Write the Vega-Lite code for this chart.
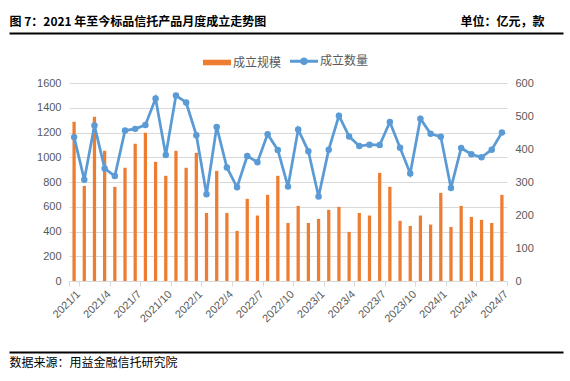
{
  "$schema": "https://vega.github.io/schema/vega-lite/v6.json",
  "width": 438,
  "height": 198,
  "autosize": {"type": "none"},
  "padding": {"left": 69, "top": 83, "right": 63, "bottom": 100},
  "background": "white",
  "config": {
    "view": {"stroke": null},
    "font": "Liberation Sans",
    "axis": {"labelFont": "Liberation Sans", "titleFont": "Noto Sans CJK SC"}
  },
  "data": {
    "values": [
      {"month": "2021/1", "amount": 1287, "count": 436},
      {"month": "2021/2", "amount": 769, "count": 307},
      {"month": "2021/3", "amount": 1327, "count": 471},
      {"month": "2021/4", "amount": 1052, "count": 341},
      {"month": "2021/5", "amount": 761, "count": 318},
      {"month": "2021/6", "amount": 915, "count": 456},
      {"month": "2021/7", "amount": 1109, "count": 461},
      {"month": "2021/8", "amount": 1198, "count": 473},
      {"month": "2021/9", "amount": 963, "count": 553},
      {"month": "2021/10", "amount": 850, "count": 382},
      {"month": "2021/11", "amount": 1052, "count": 562},
      {"month": "2021/12", "amount": 915, "count": 541},
      {"month": "2022/1", "amount": 1036, "count": 442},
      {"month": "2022/2", "amount": 550, "count": 263},
      {"month": "2022/3", "amount": 890, "count": 467},
      {"month": "2022/4", "amount": 550, "count": 344},
      {"month": "2022/5", "amount": 405, "count": 284},
      {"month": "2022/6", "amount": 664, "count": 379},
      {"month": "2022/7", "amount": 529, "count": 360},
      {"month": "2022/8", "amount": 696, "count": 445},
      {"month": "2022/9", "amount": 850, "count": 397},
      {"month": "2022/10", "amount": 469, "count": 286},
      {"month": "2022/11", "amount": 607, "count": 459},
      {"month": "2022/12", "amount": 469, "count": 393},
      {"month": "2023/1", "amount": 502, "count": 256},
      {"month": "2023/2", "amount": 575, "count": 398},
      {"month": "2023/3", "amount": 599, "count": 501},
      {"month": "2023/4", "amount": 397, "count": 438},
      {"month": "2023/5", "amount": 550, "count": 409},
      {"month": "2023/6", "amount": 529, "count": 413},
      {"month": "2023/7", "amount": 874, "count": 412},
      {"month": "2023/8", "amount": 761, "count": 482},
      {"month": "2023/9", "amount": 486, "count": 404},
      {"month": "2023/10", "amount": 445, "count": 326},
      {"month": "2023/11", "amount": 529, "count": 492},
      {"month": "2023/12", "amount": 456, "count": 446},
      {"month": "2024/1", "amount": 712, "count": 437},
      {"month": "2024/2", "amount": 437, "count": 282},
      {"month": "2024/3", "amount": 607, "count": 403},
      {"month": "2024/4", "amount": 518, "count": 384},
      {"month": "2024/5", "amount": 494, "count": 375},
      {"month": "2024/6", "amount": 469, "count": 398},
      {"month": "2024/7", "amount": 696, "count": 450}
    ]
  },
  "layer": [
    {
      "mark": {"type": "bar", "width": {"band": 0.32}},
      "encoding": {
        "x": {
          "field": "month", "type": "ordinal", "sort": null,
          "scale": {"paddingInner": 0, "paddingOuter": 0},
          "axis": {
            "title": null,
            "values": ["2021/1","2021/4","2021/7","2021/10","2022/1","2022/4","2022/7","2022/10","2023/1","2023/4","2023/7","2023/10","2024/1","2024/4","2024/7"],
            "tickBand": "extent",
            "labelAngle": -45,
            "labelOverlap": false,
            "labelColor": "#595959",
            "labelFontSize": 11,
            "labelPadding": 2,
            "domainColor": "#D9D9D9",
            "tickColor": "#D9D9D9",
            "tickSize": 5,
            "grid": false
          }
        },
        "y": {
          "field": "amount", "type": "quantitative",
          "scale": {"domain": [0, 1600], "nice": false},
          "axis": {
            "orient": "left",
            "title": null,
            "format": "d",
            "values": [0, 200, 400, 600, 800, 1000, 1200, 1400, 1600],
            "domain": false,
            "ticks": false,
            "grid": true,
            "gridColor": "#D9D9D9",
            "gridWidth": 1,
            "labelColor": "#595959",
            "labelFontSize": 11,
            "labelPadding": 8
          }
        },
        "color": {
          "datum": "成立规模",
          "scale": {"domain": ["成立规模", "成立数量"], "range": ["#ED7D31", "#5B9BD5"]},
          "legend": {
            "orient": "none",
            "legendX": 142,
            "legendY": -28,
            "direction": "horizontal",
            "title": null,
            "padding": 0,
            "symbolSize": 784,
            "labelFontSize": 12,
            "labelFont": "Noto Sans CJK SC",
            "labelColor": "#595959",
            "labelOffset": 10,
            "columnPadding": 2,
            "encode": {
              "symbols": {
                "update": {
                  "shape": {"signal": "datum.value === '成立规模' ? 'M-1,-0.2H1V0.2H-1Z' : 'M-1,0H1M-0.17,0A0.17,0.17 0 1,1 0.17,0A0.17,0.17 0 1,1 -0.17,0Z'"},
                  "fill": {"signal": "datum.value === '成立规模' ? '#ED7D31' : '#5B9BD5'"},
                  "stroke": {"signal": "datum.value === '成立规模' ? 'transparent' : '#5B9BD5'"},
                  "strokeWidth": {"signal": "datum.value === '成立规模' ? 0 : 3"},
                  "opacity": {"value": 1}
                }
              }
            }
          }
        }
      }
    },
    {
      "mark": {"type": "line", "strokeWidth": 2.75, "point": {"filled": true, "size": 42, "opacity": 1}},
      "encoding": {
        "x": {
          "field": "month", "type": "ordinal", "sort": null,
          "scale": {"paddingInner": 0, "paddingOuter": 0},
          "axis": null
        },
        "y": {
          "field": "count", "type": "quantitative",
          "scale": {"domain": [0, 600], "nice": false},
          "axis": {
            "orient": "right",
            "values": [0, 100, 200, 300, 400, 500, 600],
            "domain": false,
            "ticks": false,
            "grid": false,
            "labelColor": "#595959",
            "labelFontSize": 11,
            "labelPadding": 8,
            "title": "单位：亿元，款",
            "titleAngle": 0,
            "titleX": 37,
            "titleY": -62,
            "titleAlign": "right",
            "titleBaseline": "middle",
            "titleFontWeight": "bold",
            "titleFontSize": 12,
            "titleColor": "black"
          }
        },
        "color": {"datum": "成立数量"}
      }
    },
    {
      "data": {"values": [{"v": 0}, {"v": 1}]},
      "mark": {"type": "point", "opacity": 0},
      "encoding": {
        "x": {
          "field": "v", "type": "quantitative",
          "scale": {"domain": [0, 1], "range": [-60, 494], "nice": false, "zero": false},
          "axis": {
            "orient": "top",
            "offset": 50,
            "labels": false,
            "ticks": false,
            "grid": false,
            "domain": true,
            "domainColor": "black",
            "domainWidth": 2,
            "title": "图 7：2021 年至今标品信托产品月度成立走势图",
            "titleX": -60,
            "titleY": -12,
            "titleAlign": "left",
            "titleAngle": 0,
            "titleBaseline": "middle",
            "titleFontWeight": "bold",
            "titleFontSize": 12,
            "titleColor": "black"
          }
        }
      }
    },
    {
      "data": {"values": [{"v": 0}, {"v": 1}]},
      "mark": {"type": "point", "opacity": 0},
      "encoding": {
        "x": {
          "field": "v", "type": "quantitative",
          "scale": {"domain": [0, 1], "range": [-60, 494], "nice": false, "zero": false},
          "axis": {
            "orient": "bottom",
            "offset": 71,
            "labels": false,
            "ticks": false,
            "grid": false,
            "domain": true,
            "domainColor": "black",
            "domainWidth": 2,
            "title": "数据来源：用益金融信托研究院",
            "titleX": -60,
            "titleY": 10,
            "titleAlign": "left",
            "titleAngle": 0,
            "titleBaseline": "middle",
            "titleFontWeight": "normal",
            "titleFontSize": 12,
            "titleColor": "black"
          }
        }
      }
    }
  ],
  "resolve": {
    "scale": {"x": "independent", "y": "independent"},
    "axis": {"x": "independent", "y": "independent"}
  }
}
